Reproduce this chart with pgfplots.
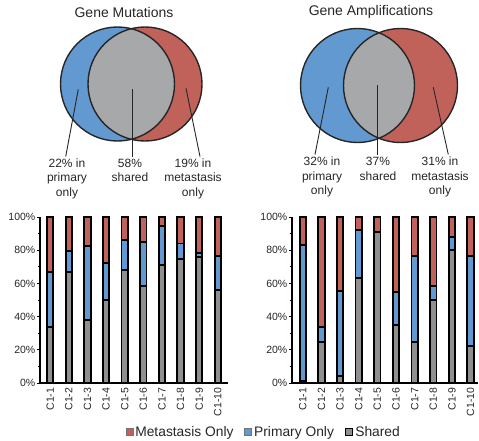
\documentclass[border=0pt]{standalone}
\usepackage{pgfplots}
\usepackage{pgfplotstable}
\pgfplotsset{compat=1.18}
\usepackage{fontspec}
\setmainfont{Liberation Sans}

\definecolor{metared}{HTML}{C0615A}
\definecolor{primblue}{HTML}{6199D0}
\definecolor{venngray}{HTML}{A7A8AA}
\definecolor{bargray}{HTML}{8F8F8F}
\definecolor{txt}{HTML}{262626}

% fraction of genes per case: shared / primary only / metastasis only (%)
\pgfplotstableread{
idx shared primary metastasis
0 33.5 33.4 33.1
1 66.9 12.8 20.3
2 37.8 44.5 17.7
3 49.8 22.3 27.9
4 68.0 18.3 13.7
5 58.6 26.5 14.9
6 70.9 23.9 5.2
7 74.9 9.2 15.9
8 76.1 2.0 21.9
9 55.8 20.5 23.7
}\mutations

\pgfplotstableread{
idx shared primary metastasis
0 1.2 81.9 16.9
1 24.7 9.0 66.3
2 4.4 51.2 44.4
3 63.3 28.7 8.0
4 90.8 0.0 9.2
5 35.1 19.5 45.4
6 24.5 51.8 23.7
7 50.0 8.6 41.4
8 80.1 7.7 12.2
9 22.5 53.8 23.7
}\amplifications

\pgfplotsset{
  stackbars/.style={
    ybar stacked, bar width=6.3pt,
    scale only axis, height=166pt,
    ymin=0, ymax=100,
    axis x line*=bottom, axis y line*=left,
    axis line style={-, black, line width=1.5pt},
    ytick={0,20,40,60,80,100},
    yticklabels={0\%,20\%,40\%,60\%,80\%,100\%},
    minor y tick num=1,
    tick align=outside, ytick pos=left,
    major tick length=3pt, minor tick length=2pt,
    y tick style={black, line width=0.8pt},
    xtick={0,...,9},
    xticklabels={C1-1,C1-2,C1-3,C1-4,C1-5,C1-6,C1-7,C1-8,C1-9,C1-10},
    x tick style={draw=none},
    x tick label style={rotate=90, anchor=east, inner sep=1.5pt},
    tick label style={font=\fontsize{10.5}{12}\selectfont, text=txt},
    y tick label style={inner sep=1.5pt},
    clip=false,
  },
  seg/.style={fill=#1, draw=black, line width=1.8pt},
}

\begin{document}
\begin{tikzpicture}[x=1pt,y=1pt]
\path (0,0) rectangle (479,-440);

% Venn diagrams and their annotations
\begin{axis}[at={(0pt,-440pt)}, anchor=south west, scale only axis,
  width=479pt, height=440pt, xmin=0, xmax=479, ymin=-440, ymax=0,
  hide axis, clip=false]
  % Gene mutations
  \fill[primblue] (axis cs:117.5,-84) circle[radius=57pt];
  \fill[metared] (axis cs:145,-84) circle[radius=57pt];
  \begin{scope}
    \clip (axis cs:117.5,-84) circle[radius=57pt];
    \fill[venngray] (axis cs:145,-84) circle[radius=57pt];
  \end{scope}
  \draw[black!85, line width=1.4pt] (axis cs:117.5,-84) circle[radius=57pt];
  \draw[black!85, line width=1.4pt] (axis cs:145,-84) circle[radius=57pt];
  \draw[black!85, line width=0.9pt] (axis cs:78.3,-89.3) -- (axis cs:65.7,-156.5);
  \draw[black!85, line width=0.9pt] (axis cs:132.7,-89.3) -- (axis cs:132.7,-156.5);
  \draw[black!85, line width=0.9pt] (axis cs:186,-88.3) -- (axis cs:200,-156.5);
  \node[font=\fontsize{14}{16}\selectfont, text=txt] at (axis cs:124,-12) {Gene Mutations};
  \node[font=\fontsize{12}{14.5}\selectfont, text=txt, align=center, anchor=north, inner sep=0pt]
    at (axis cs:67,-158.5) {22\% in\\primary\\only};
  \node[font=\fontsize{12}{14.5}\selectfont, text=txt, align=center, anchor=north, inner sep=0pt]
    at (axis cs:130,-158.5) {58\%\\shared};
  \node[font=\fontsize{12}{14.5}\selectfont, text=txt, align=center, anchor=north, inner sep=0pt]
    at (axis cs:193,-158.5) {19\% in\\metastasis\\only};

  % Gene amplifications
  \fill[primblue] (axis cs:357.5,-85.5) circle[radius=57pt];
  \fill[metared] (axis cs:400.5,-85.5) circle[radius=57pt];
  \begin{scope}
    \clip (axis cs:357.5,-85.5) circle[radius=57pt];
    \fill[venngray] (axis cs:400.5,-85.5) circle[radius=57pt];
  \end{scope}
  \draw[black!85, line width=1.4pt] (axis cs:357.5,-85.5) circle[radius=57pt];
  \draw[black!85, line width=1.4pt] (axis cs:400.5,-85.5) circle[radius=57pt];
  \draw[black!85, line width=0.9pt] (axis cs:328.3,-87.3) -- (axis cs:315,-154.5);
  \draw[black!85, line width=0.9pt] (axis cs:377.7,-85) -- (axis cs:377.7,-154.5);
  \draw[black!85, line width=0.9pt] (axis cs:433.3,-87.3) -- (axis cs:448.3,-154.5);
  \node[font=\fontsize{14}{16}\selectfont, text=txt] at (axis cs:371,-12) {Gene Amplifications};
  \node[font=\fontsize{12}{14.5}\selectfont, text=txt, align=center, anchor=north, inner sep=0pt]
    at (axis cs:322,-157) {32\% in\\primary\\only};
  \node[font=\fontsize{12}{14.5}\selectfont, text=txt, align=center, anchor=north, inner sep=0pt]
    at (axis cs:378,-157) {37\%\\shared};
  \node[font=\fontsize{12}{14.5}\selectfont, text=txt, align=center, anchor=north, inner sep=0pt]
    at (axis cs:440,-157) {31\% in\\metastasis\\only};
\end{axis}

% Stacked bars: gene mutations
\begin{axis}[stackbars, at={(40pt,-383pt)}, anchor=south west,
  width=188pt, xmin=-0.55, xmax=9.55,
  reverse legend, legend columns=3,
  legend style={at={(1.19,-0.295)}, anchor=center, draw=none, fill=none,
    font=\fontsize{13.8}{15}\selectfont, text=txt, inner sep=0pt,
    /tikz/every even column/.append style={column sep=9pt}},
  ]
  \addplot[seg=bargray, legend image code/.code={
      \draw[fill=bargray, draw=black, line width=1.4pt] (0pt,-3.5pt) rectangle (7pt,3.5pt);}]
    table[x=idx, y=shared] {\mutations};
  \addlegendentry{Shared}
  \addplot[seg=primblue, legend image code/.code={
      \draw[fill=primblue, draw=black!55, line width=0.7pt] (0pt,-3.5pt) rectangle (7pt,3.5pt);}]
    table[x=idx, y=primary] {\mutations};
  \addlegendentry{Primary Only}
  \addplot[seg=metared, legend image code/.code={
      \draw[fill=metared, draw=black!55, line width=0.7pt] (0pt,-3.5pt) rectangle (7pt,3.5pt);}]
    table[x=idx, y=metastasis] {\mutations};
  \addlegendentry{Metastasis Only}
\end{axis}

% Stacked bars: gene amplifications
\begin{axis}[stackbars, at={(292pt,-383pt)}, anchor=south west,
  width=186pt, xmin=-0.58, xmax=9.4]
  \addplot[seg=bargray] table[x=idx, y=shared] {\amplifications};
  \addplot[seg=primblue] table[x=idx, y=primary] {\amplifications};
  \addplot[seg=metared] table[x=idx, y=metastasis] {\amplifications};
\end{axis}
\end{tikzpicture}
\end{document}
